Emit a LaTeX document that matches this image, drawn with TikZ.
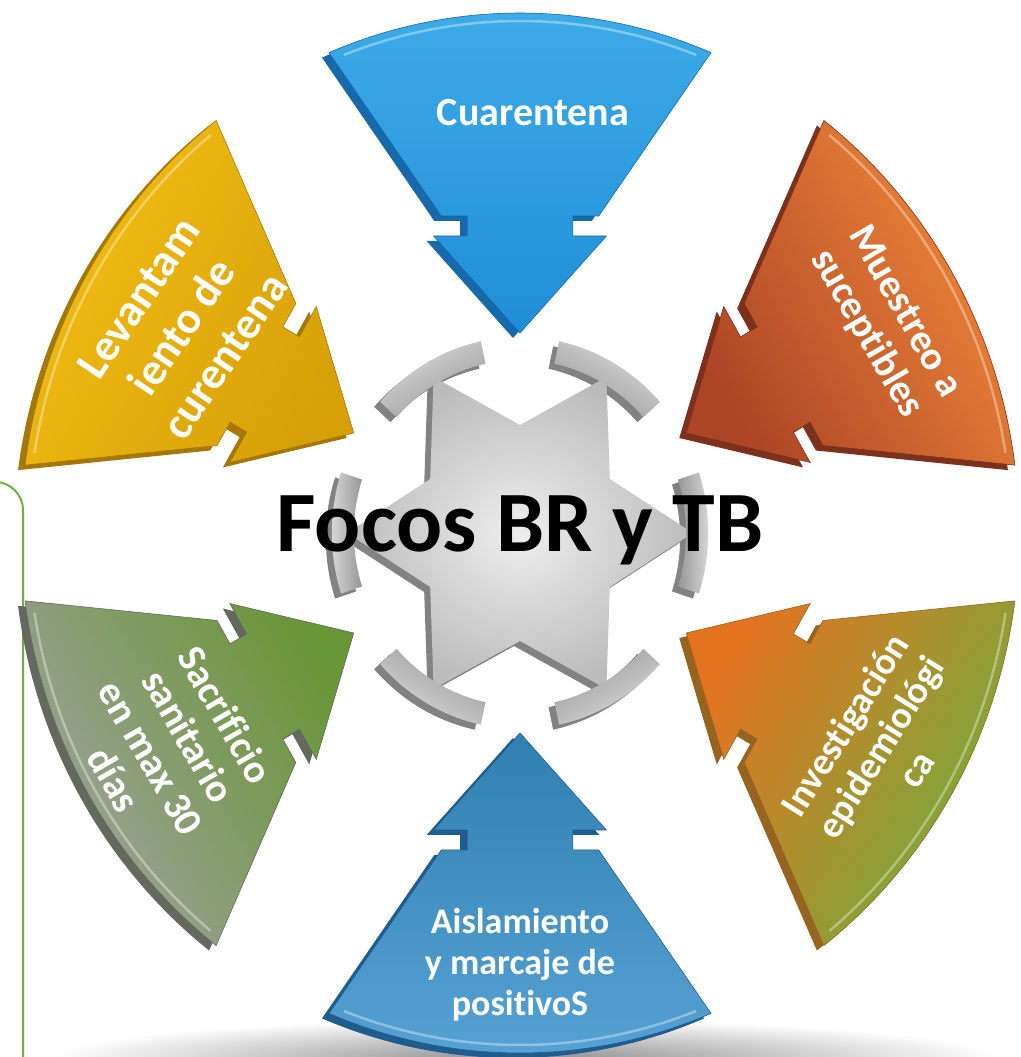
\documentclass[tikz,border=0pt]{standalone}
\usepackage{fontspec}
\setmainfont{Carlito}[Ligatures=NoCommon]
\usetikzlibrary{calc}

% segment colours: side face, outer (light) end, inner (arrow) end
\definecolor{cuarSide}{RGB}{22,105,170}
\definecolor{cuarOut}{RGB}{62,172,232}
\definecolor{cuarIn}{RGB}{32,142,215}
\definecolor{muesSide}{RGB}{125,48,28}
\definecolor{muesOut}{RGB}{242,138,58}
\definecolor{muesIn}{RGB}{172,68,38}
\definecolor{invSide}{RGB}{150,100,30}
\definecolor{invOut}{RGB}{110,175,62}
\definecolor{invIn}{RGB}{228,115,32}
\definecolor{aisSide}{RGB}{32,92,140}
\definecolor{aisOut}{RGB}{88,162,212}
\definecolor{aisIn}{RGB}{48,128,178}
\definecolor{sacSide}{RGB}{100,104,95}
\definecolor{sacOut}{RGB}{160,162,158}
\definecolor{sacIn}{RGB}{105,150,55}
\definecolor{levSide}{RGB}{165,118,8}
\definecolor{levOut}{RGB}{242,190,20}
\definecolor{levIn}{RGB}{215,160,8}
\definecolor{starIn}{RGB}{238,238,238}
\definecolor{starOut}{RGB}{188,188,188}
\definecolor{starSide}{RGB}{130,130,130}
\definecolor{capLight}{RGB}{220,220,220}
\definecolor{capDark}{RGB}{150,150,150}
\definecolor{frameGreen}{RGB}{112,173,71}

% one arrow segment in local axis coordinates (axis along +x)
\newcommand\segpath{(22.5:520) arc[start angle=22.5, end angle=-22.5, radius=520]
  -- (317,-82) -- (317,-55) -- (297,-55) -- (297,-90) -- (200,0)
  -- (297,90) -- (297,55) -- (317,55) -- (317,82) -- cycle}

% #1 axis angle, #2 shading angle, #3 side colour, #4 outer colour, #5 middle colour, #6 inner colour
\newcommand\segment[6]{%
  \fill[#3, shift={(513,519)}, xscale=0.96, rotate=#1] \segpath;
  \shade[top color=#4, middle color=#5, bottom color=#6, shading angle=#2, draw=#3, line width=0.6pt,
         shift={(520,524)}, xscale=0.96, rotate=#1] \segpath;
  \draw[white, opacity=0.35, line width=2.5pt, shift={(520,524)}, xscale=0.96, rotate=#1]
    (21:512) arc[start angle=21, end angle=-21, radius=512];
}

% hexagram of the centre piece
\newcommand\starpath{(0:180) -- (30:108) -- (60:180) -- (90:108) -- (120:180) -- (150:108)
  -- (180:180) -- (210:108) -- (240:180) -- (270:108) -- (300:180) -- (330:108) -- cycle}
% curved cap on the point at angle #1
\newcommand\cappath[1]{(#1-18:173) -- (#1-18:196) arc[start angle=#1-18, end angle=#1+18, radius=196]
    -- (#1+18:173) arc[start angle=#1+18, end angle=#1-18, radius=173] -- cycle}

\tikzset{
  lbl/.style={text=white, align=center, inner sep=0pt},
}

% #1 name, #2 x, #3 y, #4 rotation, #5 font size, #6 leading, #7 text
\newcommand\seglabel[7]{%
  \node[lbl, rotate=#4, font={\bfseries\fontsize{#5}{#6}\selectfont}] (#1) at (#2,#3) {#7};
}

\begin{document}
\begin{tikzpicture}[x=1pt, y=1pt]
\useasboundingbox (0,0) rectangle (1020,1057);
\fill[white] (0,0) rectangle (1020,1057);

% soft floor shadow
\shade[inner color=black!45, outer color=white] (525,-2) ellipse [x radius=480, y radius=40];

% frame on the left
\draw[frameGreen, line width=2pt, rounded corners=28pt] (-40,575) -- (23,575) -- (23,-20);

% the six arrow segments
\segment{90}{0}{cuarSide}{cuarOut}{cuarOut!50!cuarIn}{cuarIn}
\segment{30}{-60}{muesSide}{muesOut}{muesOut!70!muesIn}{muesIn}
\segment{-30}{-120}{invSide}{invOut}{invOut!55!invIn}{invIn}
\segment{-90}{180}{aisSide}{aisOut}{aisOut!50!aisIn}{aisIn}
\segment{210}{120}{sacSide}{sacOut}{sacOut!85!sacIn}{sacIn}
\segment{150}{60}{levSide}{levOut}{levOut!60!levIn}{levIn}

% centre piece: hexagram with capped points
\fill[starSide, shift={(514,519)}, xscale=0.96] \starpath;
\foreach \a in {0,60,...,300}{
  \fill[starSide, shift={(514,519)}, xscale=0.96] \cappath{\a};
}
\shade[inner color=starIn, outer color=starOut, shift={(520,524)}, xscale=0.96] \starpath;
\foreach \a in {0,60,...,300}{
  \pgfmathsetmacro\sa{\a-90}
  \shade[top color=capLight, bottom color=capDark, shading angle=\sa, shift={(520,524)}, xscale=0.96]
    \cappath{\a};
}

% labels
\seglabel{cuar}{533}{944}{0}{40}{44}{Cuarentena}
\seglabel{mues}{885}{734}{-60}{40}{44}{Muestreo a\\suceptibles}
\seglabel{inv}{880}{310}{58}{38}{42}{Investigación\\epidemiológi\\ca}
\seglabel{ais}{520}{92}{0}{36}{41}{Aislamiento\\y marcaje de\\positivoS}
\seglabel{sac}{170}{310}{-60}{40}{43}{Sacrificio\\sanitario\\en max 30\\días}
\seglabel{lev}{182}{730}{56}{45}{52}{Levantam\\iento de\\curentena}

\node[text=black, anchor=base, inner sep=0pt] (focos) at (520,505)
  {\fontsize{86}{90}\selectfont\bfseries Focos BR y TB};
\end{tikzpicture}
\end{document}
